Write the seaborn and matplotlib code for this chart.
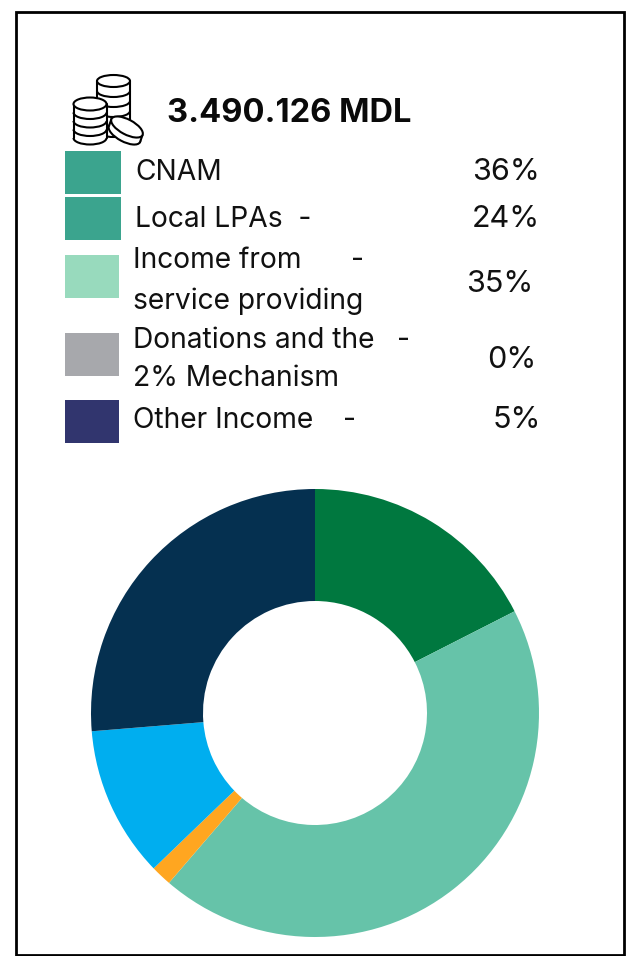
import matplotlib
matplotlib.use("Agg")
import matplotlib.pyplot as plt
import numpy as np
import seaborn as sns
from matplotlib.patches import Arc, Ellipse, Polygon, Rectangle

W, H = 626, 956

# Funding total and legend table
total_label = "3.490.126 MDL"
legend_labels = ["CNAM", "Local LPAs  -", "Income from", "service providing",
                 "Donations and the", "2% Mechanism", "Other Income"]
legend_colors = ["#3BA48E", "#3BA48E", "#98DABD", "#A7A8AC", "#31356E"]
legend_percents = ["36%", "24%", "35%", "0%", "5%"]

# Donut slices, clockwise from twelve o'clock
slice_shares = [17.5, 43.8, 1.5, 10.9, 26.3]
slice_colors = ["#00783F", "#66C3A9", "#FFA620", "#00AEEF", "#053050"]

sns.set_theme(style="white")
plt.rcParams["font.family"] = ["Inter", "Liberation Sans", "DejaVu Sans"]

fig = plt.figure(figsize=(W / 100, H / 100), dpi=100, facecolor="white")

# Overlay in pixel coordinates for the frame, the legend and the icon
page = fig.add_axes([0, 0, 1, 1])
page.set_xlim(0, W)
page.set_ylim(H, 0)
page.axis("off")

page.add_patch(Rectangle((15.5, 11.5), 608, 943, fill=False, ec="black", lw=2.0))

page.text(167, 113, total_label, fontsize=23.5, fontweight="bold",
          color="#0a0a0a", va="center", ha="left")

ICON_LW = 1.5


def coin_stack(cx, top, w, h, spacing, bands):
    """Draw a pile of coins as a cylinder with an arc for each coin edge."""
    bottom = top + spacing * bands
    page.add_patch(Ellipse((cx, bottom), w, h, fc="white", ec="none"))
    page.add_patch(Rectangle((cx - w / 2, top), w, bottom - top, fc="white", ec="none"))
    page.plot([cx - w / 2, cx - w / 2], [top, bottom], color="black", lw=ICON_LW, zorder=1)
    page.plot([cx + w / 2, cx + w / 2], [top, bottom], color="black", lw=ICON_LW, zorder=1)
    for i in range(1, bands + 1):
        page.add_patch(Arc((cx, top + spacing * i), w, h, theta1=0, theta2=180,
                           color="black", lw=ICON_LW))
    page.add_patch(Ellipse((cx, top), w, h, fc="white", ec="black", lw=ICON_LW))


coin_stack(113.5, 81, 33, 12, 10, 5)
coin_stack(90, 104, 33, 13, 8.5, 4)

# Loose coin leaning against the piles
coin_w, coin_h, coin_angle = 35, 15, 28
low = np.array([124.5, 134.0])
high = np.array([127.0, 127.0])
axis = 0.5 * coin_w * np.array([np.cos(np.radians(coin_angle)), np.sin(np.radians(coin_angle))])
page.add_patch(Ellipse(low, coin_w, coin_h, angle=coin_angle, fc="white", ec="black", lw=ICON_LW))
page.add_patch(Polygon([low - axis, low + axis, high + axis, high - axis], fc="white", ec="none"))
for end in (-axis, axis):
    page.plot([low[0] + end[0], high[0] + end[0]], [low[1] + end[1], high[1] + end[1]],
              color="black", lw=ICON_LW, zorder=1)
page.add_patch(Ellipse(high, coin_w, coin_h, angle=coin_angle, fc="white", ec="black", lw=ICON_LW))

# Legend swatches
swatch_tops = [151, 197, 255, 333, 400]
swatch_heights = [43, 43, 43, 43, 43]
swatch_widths = [56, 56, 54, 54, 54]
for top, hgt, wid, col in zip(swatch_tops, swatch_heights, swatch_widths, legend_colors):
    page.add_patch(Rectangle((65, top), wid, hgt, fc=col, ec="none"))

# Legend text
text_style = dict(fontsize=20.3, color="#111111", va="center", ha="left")
label_pos = [(135, 172), (135, 219), (133, 261), (133, 301), (133, 340), (133, 379), (133, 420)]
for (x, y), label in zip(label_pos, legend_labels):
    page.text(x, y, label, **text_style)

for x, y in [(351, 261), (397, 340), (343, 420)]:
    page.text(x, y, "-", **text_style)

pct_pos = [(540, 172), (540, 219), (533, 284), (536, 360), (541, 420)]
for (x, y), pct in zip(pct_pos, legend_percents):
    page.text(x, y, pct, fontsize=22, color="#111111", va="center", ha="right")

# Donut chart
R = 224
cx, cy = 315, 713
donut = fig.add_axes([(cx - R) / W, 1 - (cy + R) / H, 2 * R / W, 2 * R / H])
donut.pie(slice_shares, colors=slice_colors, startangle=90, counterclock=False,
          radius=1.0, wedgeprops=dict(width=0.5, linewidth=0))
donut.set_xlim(-1, 1)
donut.set_ylim(-1, 1)
donut.set_aspect("equal")
donut.axis("off")

fig.savefig("out.png", dpi=100, facecolor="white")
